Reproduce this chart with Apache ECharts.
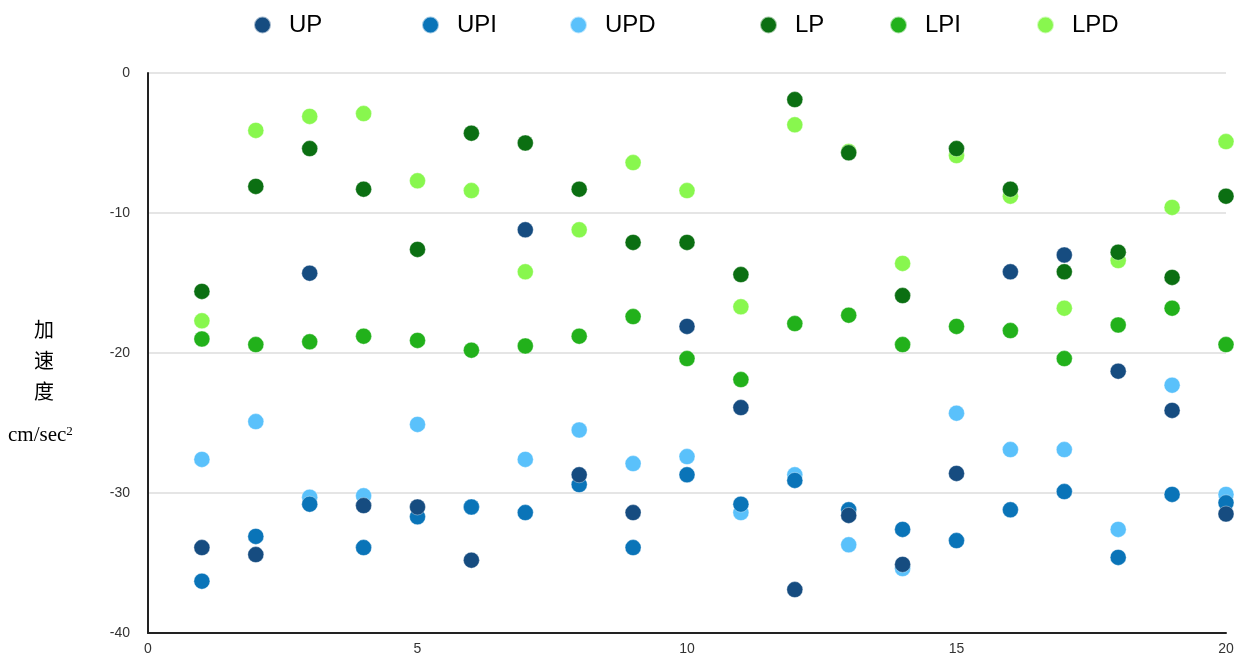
<!DOCTYPE html>
<html>
<head>
<meta charset="utf-8">
<script src="https://cdn.jsdelivr.net/npm/echarts@6/dist/echarts.min.js"></script>
<style>html,body{margin:0;padding:0;background:#fff}#c{width:1238px;height:656px}</style>
</head>
<body>
<div id="c"></div>
<script>
const xs = [1,2,3,4,5,6,7,8,9,10,11,12,13,14,15,16,17,18,19,20];
const seriesNames = ['UP','UPI','UPD','LP','LPI','LPD'];
const UP  = [-33.9,-34.4,-14.3,-30.9,-31.0,-34.8,-11.2,-28.7,-31.4,-18.1,-23.9,-36.9,-31.6,-35.1,-28.6,-14.2,-13.0,-21.3,-24.1,-31.5];
const UPI = [-36.3,-33.1,-30.8,-33.9,-31.7,-31.0,-31.4,-29.4,-33.9,-28.7,-30.8,-29.1,-31.2,-32.6,-33.4,-31.2,-29.9,-34.6,-30.1,-30.7];
const UPD = [-27.6,-24.9,-30.3,-30.2,-25.1,-31.0,-27.6,-25.5,-27.9,-27.4,-31.4,-28.7,-33.7,-35.4,-24.3,-26.9,-26.9,-32.6,-22.3,-30.1];
const LP  = [-15.6,-8.1,-5.4,-8.3,-12.6,-4.3,-5.0,-8.3,-12.1,-12.1,-14.4,-1.9,-5.7,-15.9,-5.4,-8.3,-14.2,-12.8,-14.6,-8.8];
const LPI = [-19.0,-19.4,-19.2,-18.8,-19.1,-19.8,-19.5,-18.8,-17.4,-20.4,-21.9,-17.9,-17.3,-19.4,-18.1,-18.4,-20.4,-18.0,-16.8,-19.4];
const LPD = [-17.7,-4.1,-3.1,-2.9,-7.7,-8.4,-14.2,-11.2,-6.4,-8.4,-16.7,-3.7,-5.6,-13.6,-5.9,-8.8,-16.8,-13.4,-9.6,-4.9];
const colors = {UP:'#164c80',UPI:'#0a74b8',UPD:'#5ac1fb',LP:'#0b6f12',LPI:'#22b11b',LPD:'#88f74e'};
const values = {UP,UPI,UPD,LP,LPI,LPD};

const chart = echarts.init(document.getElementById('c'));
const legendLefts = [253,421,569,759,889,1036];
const drawOrder = ['LPD','LPI','LP','UPD','UPI','UP'];
chart.setOption({
  animation:false,
  grid:{left:148,right:12,top:73,bottom:23},
  legend: seriesNames.map((n,i)=>({
    data:[n], left:legendLefts[i], top:13, padding:0, icon:'circle', itemWidth:17, itemHeight:17, itemGap:0,
    textStyle:{fontSize:24,color:'#000',padding:[0,0,0,13],fontFamily:'Liberation Sans, Arial, sans-serif'}
  })),
  xAxis:{type:'value',min:0,max:20,interval:5,
    axisLine:{show:true,onZero:false,lineStyle:{color:'#222',width:2}},
    axisTick:{show:false},splitLine:{show:false},
    axisLabel:{color:'#333',fontSize:14,margin:9,fontFamily:'Liberation Sans, Arial, sans-serif'}},
  yAxis:{type:'value',min:-40,max:0,interval:10,
    axisLine:{show:true,onZero:false,lineStyle:{color:'#222',width:2}},
    axisTick:{show:false},
    splitLine:{show:true,lineStyle:{color:'#dddddd',width:1.5}},
    axisLabel:{color:'#333',fontSize:14,margin:18,fontFamily:'Liberation Sans, Arial, sans-serif'}},
  graphic:[
    {type:'text',left:34,top:314,style:{text:'加\n速\n度',font:'20px "Noto Sans CJK SC", sans-serif',lineHeight:31,fill:'#000'}},
    {type:'text',left:8,top:425,style:{text:'{a|cm/sec}{b|2}',rich:{a:{fontSize:21,fontFamily:'Liberation Serif, Times New Roman, serif',fill:'#000'},b:{fontSize:13,fontFamily:'Liberation Serif, serif',fill:'#000',verticalAlign:'top',padding:[0,0,8,0]}}}}
  ],
  series: drawOrder.map(n=>({
    name:n,type:'scatter',symbolSize:16,
    itemStyle:{color:colors[n],borderColor:'rgba(255,255,255,0.6)',borderWidth:0.6,opacity:1},
    data: xs.map((x,i)=>[x,values[n][i]])
  }))
});
</script>
</body>
</html>
